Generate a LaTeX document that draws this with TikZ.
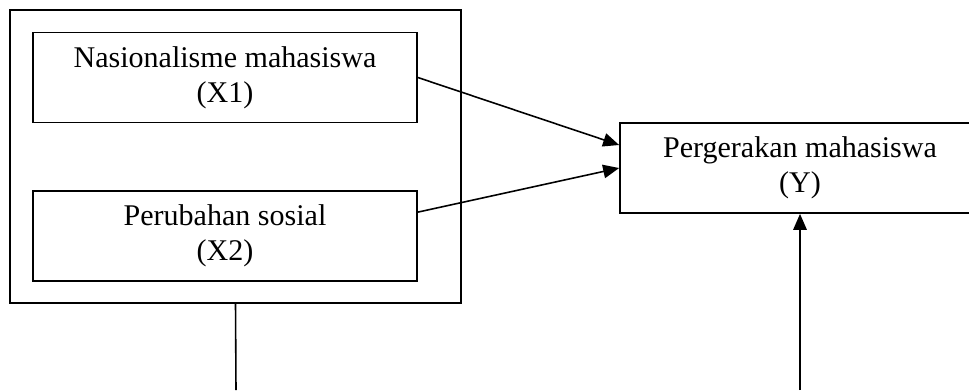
\documentclass[tikz,border=0pt]{standalone}
\usepackage{fontspec}
\setmainfont{Liberation Serif}
\usetikzlibrary{arrows.meta}
\tikzset{
    varbox/.style={draw,line width=1pt,align=center,inner sep=0pt,
        minimum width=7.68cm,minimum height=1.8cm},
    link/.style={line width=0.9pt,-{Triangle[length=0.32cm,width=0.27cm]}}
}
\begin{document}
\begin{tikzpicture}[x=0.02cm,y=-0.02cm,font=\fontsize{17.1}{19.9}\selectfont]
        \clip (0,0) rectangle (969,390);
        %% Group of independent variables
        \node[draw,line width=1pt,minimum width=9.02cm,minimum height=5.86cm]
            (grp) at (235.5,156.5) {};
        \node[varbox] (xone) at (225,77.5) {Nasionalisme mahasiswa\\(X1)};
        \node[varbox] (xtwo) at (225,236) {Perubahan sosial\\(X2)};
        %% Dependent variable
        \node[varbox,minimum width=7.2cm] (yvar) at (800,168)
            {Pergerakan mahasiswa\\(Y)};
        %% Arrows
        \draw[link] (xone.east) -- ([yshift=0.46cm]yvar.west);
        \draw[link] ([yshift=-0.44cm]xtwo.north east) -- (yvar.west);
        %% Lines to the bottom
        \coordinate (lbot) at (236,390);
        \coordinate (rbot) at (800,390);
        \draw[line width=0.9pt] (grp.south) -- (lbot);
        \draw[link] (rbot) -- (yvar.south);
    \end{tikzpicture}
\end{document}
